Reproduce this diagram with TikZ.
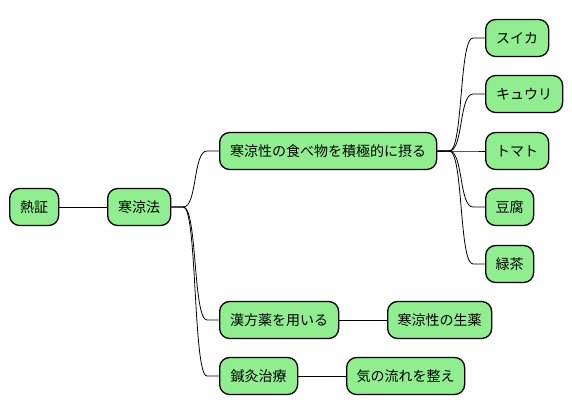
\documentclass[tikz,border=0pt]{standalone}
\usepackage{fontspec}
\newfontfamily\cjk{Noto Sans CJK JP}
\definecolor{leaf}{HTML}{90EE90}
\tikzset{
  mm/.style={draw=black, fill=leaf, line width=1.3pt, rounded corners=10pt,
    minimum height=37pt, inner sep=0pt, anchor=west, font=\cjk\fontsize{14pt}{16pt}\selectfont},
  link/.style={draw=black, line width=0.8pt}
}
\newcommand{\conn}[2]{\draw[link] (#1.east) -- ++(12,0) .. controls +(14,0) and ([xshift=-26pt]#2.west) .. ([xshift=-12pt]#2.west) -- (#2.west);}
\begin{document}
\begin{tikzpicture}[x=1pt,y=-1pt]
\useasboundingbox (0,0) rectangle (572,415);
\node[mm, minimum width=49pt] (n1) at (9,207) {熱証};
\node[mm, minimum width=63pt] (n2) at (107,207) {寒涼法};
\node[mm, minimum width=217pt] (n3) at (219,151) {寒涼性の食べ物を積極的に摂る};
\node[mm, minimum width=63pt] (f1) at (485,38) {スイカ};
\node[mm, minimum width=77pt] (f2) at (485,94) {キュウリ};
\node[mm, minimum width=63pt] (f3) at (485,151) {トマト};
\node[mm, minimum width=48pt] (f4) at (485,207) {豆腐};
\node[mm, minimum width=48pt] (f5) at (485,264) {緑茶};
\node[mm, minimum width=119pt] (k1) at (219,320) {漢方薬を用いる};
\node[mm, minimum width=104pt] (k2) at (387,320) {寒涼性の生薬};
\node[mm, minimum width=78pt] (s1) at (219,376) {鍼灸治療};
\node[mm, minimum width=118pt] (s2) at (346,376) {気の流れを整え};
\draw[link] (n1.east) -- (n2.west);
\conn{n2}{n3}
\conn{n2}{k1}
\conn{n2}{s1}
\conn{n3}{f1}
\conn{n3}{f2}
\conn{n3}{f3}
\conn{n3}{f4}
\conn{n3}{f5}
\draw[link] (k1.east) -- (k2.west);
\draw[link] (s1.east) -- (s2.west);
\end{tikzpicture}
\end{document}
